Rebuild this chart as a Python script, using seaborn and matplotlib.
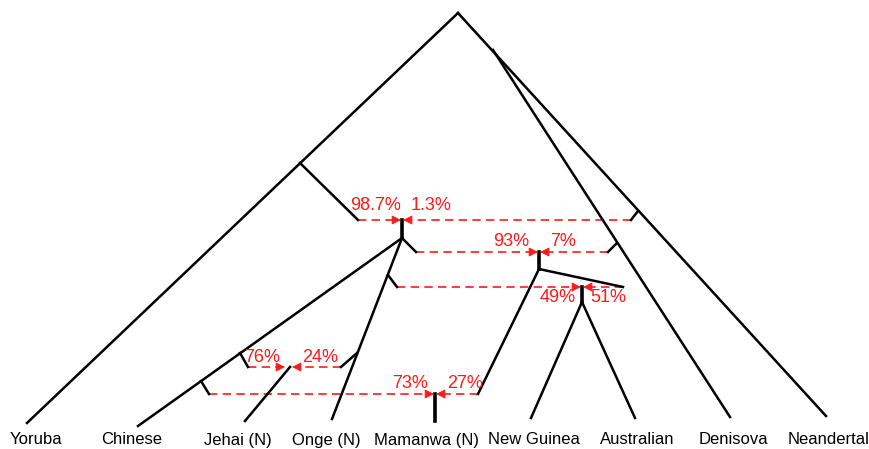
import pandas as pd
import seaborn as sns
import matplotlib.pyplot as plt

# node layout of the admixture graph (pixel space, y grows downwards)
node_names = ["root", "den_split", "yoruba", "nea_leaf", "den_leaf", "chi_leaf",
              "onge_leaf", "jehai_top", "jehai_leaf", "y_branch", "y_end",
              "A_top", "A", "A_branch", "B_top", "B", "B_right", "B_left",
              "C_top", "C", "ng_leaf", "aus_leaf", "M_top", "M_leaf",
              "nea_tick", "nea_end", "den_tick", "den_end",
              "chi_tick1", "chi_end1", "chi_tick2", "chi_end2",
              "onge_tick1", "onge_end1", "onge_tick2", "onge_end2"]
node_x = [458, 493, 27, 826, 730, 138,
          332, 290, 245, 300, 358,
          402, 402, 416, 539, 539, 623, 478,
          582, 582, 531, 635, 435, 435,
          638, 631, 617, 608,
          240, 248, 201, 209,
          388, 397, 357, 341]
node_y = [13, 50, 423, 416, 417, 426,
          419, 367, 421, 163, 220,
          220, 238, 252, 252, 269, 287, 394,
          287, 302, 418, 418, 394, 421,
          211, 220, 243, 252,
          353, 367, 381, 394,
          275, 287, 353, 367]

tree_edges = [("root", "yoruba"), ("root", "nea_leaf"), ("den_split", "den_leaf"),
              ("y_branch", "y_end"), ("A", "chi_leaf"), ("A", "onge_leaf"),
              ("A", "A_branch"), ("jehai_top", "jehai_leaf"), ("B", "B_right"),
              ("B", "B_left"), ("C", "ng_leaf"), ("C", "aus_leaf"),
              ("nea_tick", "nea_end"), ("den_tick", "den_end"),
              ("chi_tick1", "chi_end1"), ("chi_tick2", "chi_end2"),
              ("onge_tick1", "onge_end1"), ("onge_tick2", "onge_end2")]
admix_bars = [("A_top", "A"), ("B_top", "B"), ("C_top", "C"), ("M_top", "M_leaf")]

admix_src = ["y_end", "nea_end", "A_branch", "den_end", "onge_end1", "B_right",
             "chi_end1", "onge_end2", "chi_end2", "B_left"]
admix_dst = ["A_top", "A_top", "B_top", "B_top", "C_top", "C_top",
             "jehai_top", "jehai_top", "M_top", "M_top"]
admix_pct = ["98.7%", "1.3%", "93%", "7%", "49%", "51%", "76%", "24%", "73%", "27%"]

leaf_labels = ["Yoruba", "Chinese", "Jehai (N)", "Onge (N)", "Mamanwa (N)",
               "New Guinea", "Australian", "Denisova", "Neandertal"]

# layout of the text
leaf_label_x = [36, 132, 238, 326, 426, 534, 637, 733, 829]
pct_x = [376, 431, 511, 563, 558, 608, 262, 320, 410, 465]
pct_y = [206, 206, 242, 242, 298, 298, 357, 357, 383, 383]
arrow_tip_gap = [1, 1, 1, 1, 1, 1, 5, 2, 1, 1]

pos = {n: (x, y) for n, x, y in zip(node_names, node_x, node_y)}


def edge_frame(edges):
    rows = []
    for i, (a, b) in enumerate(edges):
        for n in (a, b):
            rows.append({"edge": i, "x": pos[n][0], "y": pos[n][1]})
    return pd.DataFrame(rows)


plt.rcParams["font.family"] = ["Liberation Sans", "DejaVu Sans"]
fig = plt.figure(figsize=(8.69, 4.49), dpi=100)
ax = fig.add_axes([0, 0, 1, 1])

red = "#ff1a1a"
for src, dst, gap in zip(admix_src, admix_dst, arrow_tip_gap):
    x0, y0 = pos[src]
    x1, _ = pos[dst]
    d = 1 if x1 > x0 else -1
    tip = x1 - d * gap
    ax.plot([x0, tip - d * 7], [y0, y0], color=red, lw=1.2,
            linestyle=(0, (5.0, 3.2)), solid_capstyle="butt")
    ax.annotate("", xy=(tip, y0), xytext=(tip - d * 8, y0),
                arrowprops=dict(arrowstyle="-|>,head_length=0.52,head_width=0.26",
                                color=red, lw=0.6,
                                mutation_scale=11, shrinkA=0, shrinkB=0))

sns.lineplot(data=edge_frame(tree_edges), x="x", y="y", units="edge",
             estimator=None, sort=False, color="black", lw=1.8, ax=ax)
sns.lineplot(data=edge_frame(admix_bars), x="x", y="y", units="edge",
             estimator=None, sort=False, color="black", lw=2.6, ax=ax)

for txt, x, y in zip(admix_pct, pct_x, pct_y):
    ax.text(x, y, txt, color=red, fontsize=13, ha="center", va="center")

for txt, x in zip(leaf_labels, leaf_label_x):
    ax.text(x, 440, txt, color="black", fontsize=12, ha="center", va="center")

ax.set_xlim(0, 869)
ax.set_ylim(449, 0)
ax.axis("off")

plt.savefig("out.png", dpi=100)
